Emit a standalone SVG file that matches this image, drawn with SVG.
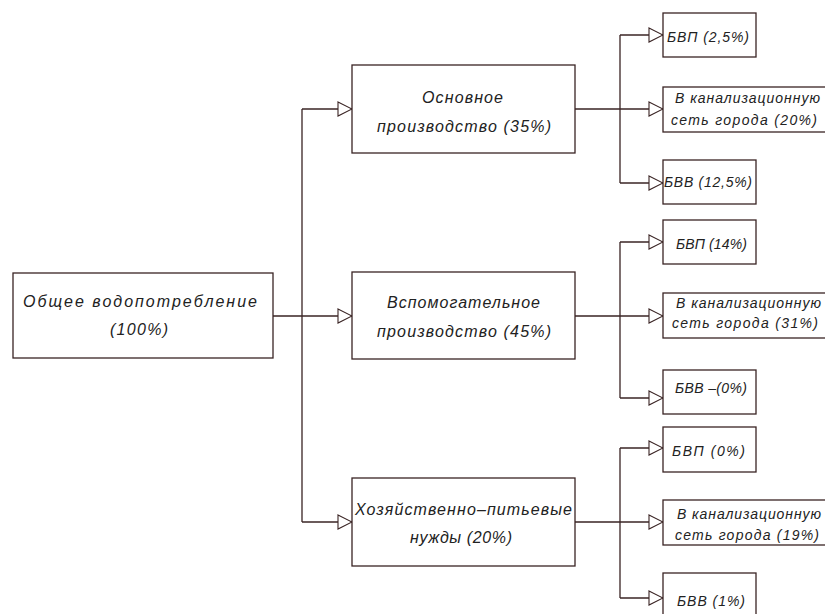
<svg xmlns="http://www.w3.org/2000/svg" width="825" height="614" viewBox="0 0 825 614">
<style>
.box{fill:#fff;stroke:#3a2424;stroke-width:1.3}
.ln{fill:none;stroke:#3a2424;stroke-width:1.3}
.t{font-family:"Liberation Sans",Arial,sans-serif;font-style:italic;font-size:16px;fill:#222}
.m{text-anchor:middle}
.s{font-size:14px}
</style>
<defs>
<marker id="arr" markerUnits="userSpaceOnUse" markerWidth="16" markerHeight="16" refX="14" refY="7" orient="auto" viewBox="-1 -1 16 16">
<path d="M0,0 L14,7 L0,14 Z" fill="#fff" stroke="#3a2424" stroke-width="1.1"/>
</marker>
</defs>
<rect width="825" height="614" fill="#fff"/>
<g id="connectors">
<path class="ln" d="M273,316 H302 M302,109 V522"/>
<path class="ln" d="M302,109 H352" marker-end="url(#arr)"/>
<path class="ln" d="M302,316 H352" marker-end="url(#arr)"/>
<path class="ln" d="M302,522 H352" marker-end="url(#arr)"/>
<path class="ln" d="M575,109 H620 M620,35 V183"/>
<path class="ln" d="M620,35 H663" marker-end="url(#arr)"/>
<path class="ln" d="M620,109 H663" marker-end="url(#arr)"/>
<path class="ln" d="M620,183 H663" marker-end="url(#arr)"/>
<path class="ln" d="M575,316 H620 M620,242 V398"/>
<path class="ln" d="M620,242 H663" marker-end="url(#arr)"/>
<path class="ln" d="M620,316 H663" marker-end="url(#arr)"/>
<path class="ln" d="M620,398 H663" marker-end="url(#arr)"/>
<path class="ln" d="M575,522 H620 M620,448 V598"/>
<path class="ln" d="M620,448 H663" marker-end="url(#arr)"/>
<path class="ln" d="M620,522 H663" marker-end="url(#arr)"/>
<path class="ln" d="M620,598 H663" marker-end="url(#arr)"/>
</g>
<g id="root">
<rect class="box" x="13" y="273" width="260" height="85"/>
<text class="t m" x="140" y="307" font-size="17" textLength="234" lengthAdjust="spacing">Общее водопотребление</text>
<text class="t m" x="139" y="335" textLength="58" lengthAdjust="spacing">(100%)</text>
</g>
<g id="main">
<rect class="box" x="352" y="65" width="223" height="88"/>
<text class="t m" x="462.5" y="103" textLength="81" lengthAdjust="spacing">Основное</text>
<text class="t m" x="464" y="132" textLength="174" lengthAdjust="spacing">производство (35%)</text>
</g>
<g id="aux">
<rect class="box" x="352" y="272" width="223" height="87"/>
<text class="t m" x="463.5" y="308" textLength="153" lengthAdjust="spacing">Вспомогательное</text>
<text class="t m" x="464" y="337" textLength="174" lengthAdjust="spacing">производство (45%)</text>
</g>
<g id="household">
<rect class="box" x="352" y="478" width="223" height="88"/>
<text class="t m" x="463.5" y="515" textLength="217" lengthAdjust="spacing">Хозяйственно–питьевые</text>
<text class="t m" x="461" y="543" textLength="102" lengthAdjust="spacing">нужды (20%)</text>
</g>
<g id="main-bvp">
<rect class="box" x="663" y="13" width="93" height="44"/>
<text class="t s" x="667" y="42" textLength="82" lengthAdjust="spacing">БВП (2,5%)</text>
</g>
<g id="main-sewer">
<rect class="box" x="663" y="87" width="172" height="45"/>
<text class="t s" x="675" y="103" textLength="145" lengthAdjust="spacing">В канализационную</text>
<text class="t s" x="671" y="125" textLength="146" lengthAdjust="spacing">сеть города (20%)</text>
</g>
<g id="main-bvv">
<rect class="box" x="663" y="160" width="93" height="44"/>
<text class="t s" x="664" y="187" textLength="88" lengthAdjust="spacing">БВВ (12,5%)</text>
</g>
<g id="aux-bvp">
<rect class="box" x="663" y="220" width="93" height="44"/>
<text class="t s" x="676" y="249" textLength="71" lengthAdjust="spacing">БВП (14%)</text>
</g>
<g id="aux-sewer">
<rect class="box" x="663" y="293" width="172" height="45"/>
<text class="t s" x="676" y="308" textLength="145" lengthAdjust="spacing">В канализационную</text>
<text class="t s" x="672" y="328" textLength="146" lengthAdjust="spacing">сеть города (31%)</text>
</g>
<g id="aux-bvv">
<rect class="box" x="663" y="370" width="93" height="44"/>
<text class="t s" x="675" y="393" textLength="72" lengthAdjust="spacing">БВВ –(0%)</text>
</g>
<g id="hh-bvp">
<rect class="box" x="663" y="427" width="93" height="45"/>
<text class="t s" x="672" y="456" textLength="73" lengthAdjust="spacing">БВП (0%)</text>
</g>
<g id="hh-sewer">
<rect class="box" x="663" y="500" width="172" height="45"/>
<text class="t s" x="677" y="519" textLength="144" lengthAdjust="spacing">В канализационную</text>
<text class="t s" x="675" y="540" textLength="144" lengthAdjust="spacing">сеть города (19%)</text>
</g>
<g id="hh-bvv">
<rect class="box" x="663" y="573" width="93" height="46"/>
<text class="t s" x="677" y="606" textLength="68" lengthAdjust="spacing">БВВ (1%)</text>
</g>
</svg>
